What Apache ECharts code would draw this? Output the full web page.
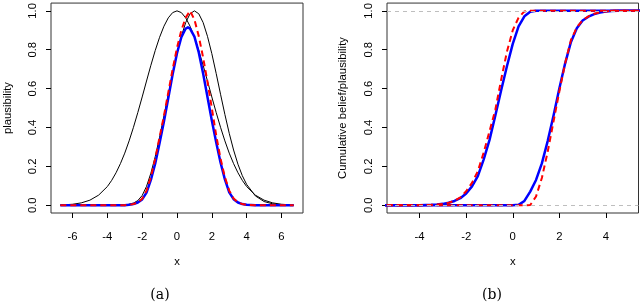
<!DOCTYPE html>
<html><head><meta charset="utf-8">
<script src="https://cdn.jsdelivr.net/npm/echarts@6/dist/echarts.min.js"></script>
<style>html,body{margin:0;padding:0;background:#fff}#c{width:640px;height:303px}</style>
</head><body><div id="c"></div>
<script>
// ---------- Panel (a): plausibility contours ----------
const xA = [-6.7,-6,-5.5,-5,-4.5,-4,-3.75,-3.5,-3.25,-3,-2.75,-2.5,-2.25,-2,-1.75,-1.5,-1.25,-1,-0.75,-0.5,-0.25,0,0.25,0.5,0.75,1,1.25,1.5,1.75,2,2.25,2.5,2.75,3,3.25,3.5,3.75,4,4.5,5,5.5,6,6.7];
const plBlack1 = [0.001,0.005,0.012,0.026,0.052,0.096,0.128,0.167,0.214,0.268,0.331,0.401,0.477,0.557,0.639,0.720,0.796,0.864,0.921,0.964,0.991,1,0.991,0.964,0.921,0.864,0.796,0.720,0.639,0.557,0.477,0.401,0.331,0.268,0.214,0.167,0.128,0.096,0.052,0.026,0.012,0.005,0.001];
const plBlack2 = [0,0,0,0,0,0,0,0,0.001,0.002,0.005,0.011,0.024,0.05,0.097,0.165,0.25,0.35,0.46,0.571,0.678,0.78,0.869,0.94,0.985,1,0.985,0.94,0.869,0.78,0.678,0.571,0.467,0.37,0.284,0.211,0.152,0.107,0.048,0.019,0.007,0.002,0];
const plRed = [0,0,0,0,0,0,0,0,0,0,0.002,0.006,0.014,0.033,0.075,0.145,0.24,0.35,0.46,0.58,0.70,0.81,0.90,0.965,1,0.955,0.87,0.76,0.635,0.50,0.36,0.24,0.145,0.075,0.035,0.015,0.006,0.002,0,0,0,0,0];
// blue contour has its peak between grid points, so it gets its own x positions
const xBlue = [-6.7,-4,-3,-2.75,-2.5,-2.25,-2,-1.75,-1.5,-1.25,-1,-0.75,-0.5,-0.25,0,0.25,0.5,0.63,0.75,1,1.25,1.5,1.75,2,2.25,2.5,2.75,3,3.25,3.5,3.75,4,4.5,6.7];
const plBlue = [0,0,0,0.002,0.006,0.014,0.03,0.065,0.13,0.215,0.32,0.431,0.552,0.674,0.782,0.864,0.909,0.915,0.909,0.867,0.786,0.678,0.557,0.436,0.324,0.22,0.133,0.066,0.031,0.014,0.006,0.002,0,0];

// ---------- Panel (b): cumulative belief / plausibility ----------
const xB = [-6.7,-5,-4.5,-4,-3.5,-3.25,-3,-2.75,-2.5,-2.25,-2,-1.75,-1.5,-1.25,-1,-0.75,-0.5,-0.25,0,0.25,0.5,0.75,1,1.25,1.5,1.75,2,2.25,2.5,2.75,3,3.25,3.5,3.75,4,4.25,4.5,5,6.7];
const cumBlueUpper = [0,0,0,0.0005,0.002,0.004,0.007,0.013,0.022,0.036,0.06,0.097,0.15,0.235,0.335,0.46,0.59,0.715,0.83,0.92,0.972,0.995,1,1,1,1,1,1,1,1,1,1,1,1,1,1,1,1,1];
const cumBlueLower = [0,0,0,0,0,0,0,0,0,0,0,0,0,0,0,0,0,0,0,0.002,0.022,0.07,0.13,0.215,0.33,0.46,0.6,0.73,0.84,0.91,0.95,0.97,0.983,0.991,0.996,0.999,1,1,1];
const cumRedUpper = [0,0,0,0.0005,0.002,0.004,0.007,0.013,0.023,0.04,0.072,0.115,0.175,0.27,0.38,0.49,0.645,0.79,0.9,0.965,0.997,1,1,1,1,1,1,1,1,1,1,1,1,1,1,1,1,1,1];
const cumRedLower = [0,0,0,0,0,0,0,0,0,0,0,0,0,0,0,0,0,0,0,0,0,0.001,0.045,0.14,0.275,0.43,0.585,0.73,0.85,0.915,0.952,0.972,0.985,0.993,0.997,1,1,1,1];
const refLevels = [0, 1];

// ---------- Tick labels & texts ----------
const xTicksA = [-6,-4,-2,0,2,4,6];
const xTicksB = [-4,-2,0,2,4];
const yTicks = [0,0.2,0.4,0.6,0.8,1];
const yNames = ['plausibility','Cumulative belief/plausibility'];
const xName = 'x';
const panelLabels = ['(a)','(b)'];

function pairs(xs, ys){ return xs.map((x,i)=>[x, ys[i]]); }

const FONT = 'Liberation Sans, Arial, sans-serif';
const FS = 11.3;

function xAxisCfg(gi, lim, ticks){
  return {
    type:'value', gridIndex:gi, min:-lim, max:lim, position:'bottom',
    axisLine:{show:false, onZero:false}, splitLine:{show:false},
    axisTick:{show:true, length:5, customValues:ticks, lineStyle:{color:'#000',width:1}},
    axisLabel:{show:true, customValues:ticks, margin:18, fontSize:FS, color:'#000', fontFamily:FONT},
    name:xName, nameLocation:'middle', nameGap:43,
    nameTextStyle:{fontSize:FS, color:'#000', fontFamily:FONT}
  };
}
function yAxisCfg(gi, name, gap){
  return {
    type:'value', gridIndex:gi, min:-0.04, max:1.04, position:'left',
    axisLine:{show:false, onZero:false}, splitLine:{show:false},
    axisTick:{show:true, length:5, customValues:yTicks, lineStyle:{color:'#000',width:1}},
    axisLabel:{show:true, customValues:yTicks, rotate:90, margin:13, fontSize:FS, color:'#000', fontFamily:FONT,
      formatter:(v)=>Number(v).toFixed(1)},
    name:name, nameLocation:'middle', nameGap:gap,
    nameTextStyle:{fontSize:FS, color:'#000', fontFamily:FONT}
  };
}
function curve(xi, yi, data, color, width, dashed, z){
  return {
    type:'line', xAxisIndex:xi, yAxisIndex:yi, data:data,
    showSymbol:false, symbol:'none', smooth:false, z:z,
    lineStyle:{color:color, width:width, type: dashed ? [6,4] : 'solid', join:'round'},
    silent:true, animation:false
  };
}

const chart = echarts.init(document.getElementById('c'), null, {renderer:'canvas'});
chart.setOption({
  animation:false,
  backgroundColor:'#fff',
  grid:[
    {left:51, top:1, width:252, height:212, show:true, borderColor:'#333', borderWidth:1, backgroundColor:'transparent'},
    {left:387, top:1, width:251.5, height:212, show:true, borderColor:'#333', borderWidth:1, backgroundColor:'transparent'}
  ],
  xAxis:[ xAxisCfg(0, 7.236, xTicksA), xAxisCfg(1, 5.4, xTicksB) ],
  yAxis:[ yAxisCfg(0, yNames[0], 38), yAxisCfg(1, yNames[1], 39) ],
  graphic:[
    {type:'text', x:160, y:295, style:{text:panelLabels[0], font:'14px "DejaVu Serif", serif', fill:'#000', textAlign:'center', textVerticalAlign:'middle'}},
    {type:'text', x:492, y:295, style:{text:panelLabels[1], font:'14px "DejaVu Serif", serif', fill:'#000', textAlign:'center', textVerticalAlign:'middle'}}
  ],
  series:[
    curve(0,0,pairs(xA,plBlack1),'#000',1,false,2),
    curve(0,0,pairs(xA,plBlack2),'#000',1,false,2),
    curve(0,0,pairs(xBlue,plBlue),'#0000ff',2.5,false,3),
    curve(0,0,pairs(xA,plRed),'#ff0000',2,true,4),
    {
      type:'line', xAxisIndex:1, yAxisIndex:1, data:[], z:1, silent:true,
      markLine:{silent:true, symbol:['none','none'], animation:false, label:{show:false},
        lineStyle:{color:'#bebebe', type:[4,4], width:1},
        data: refLevels.map(v=>({yAxis:v}))}
    },
    curve(1,1,pairs(xB,cumBlueUpper),'#0000ff',2.5,false,3),
    curve(1,1,pairs(xB,cumBlueLower),'#0000ff',2.5,false,3),
    curve(1,1,pairs(xB,cumRedUpper),'#ff0000',2,true,4),
    curve(1,1,pairs(xB,cumRedLower),'#ff0000',2,true,4)
  ]
});
</script></body></html>
